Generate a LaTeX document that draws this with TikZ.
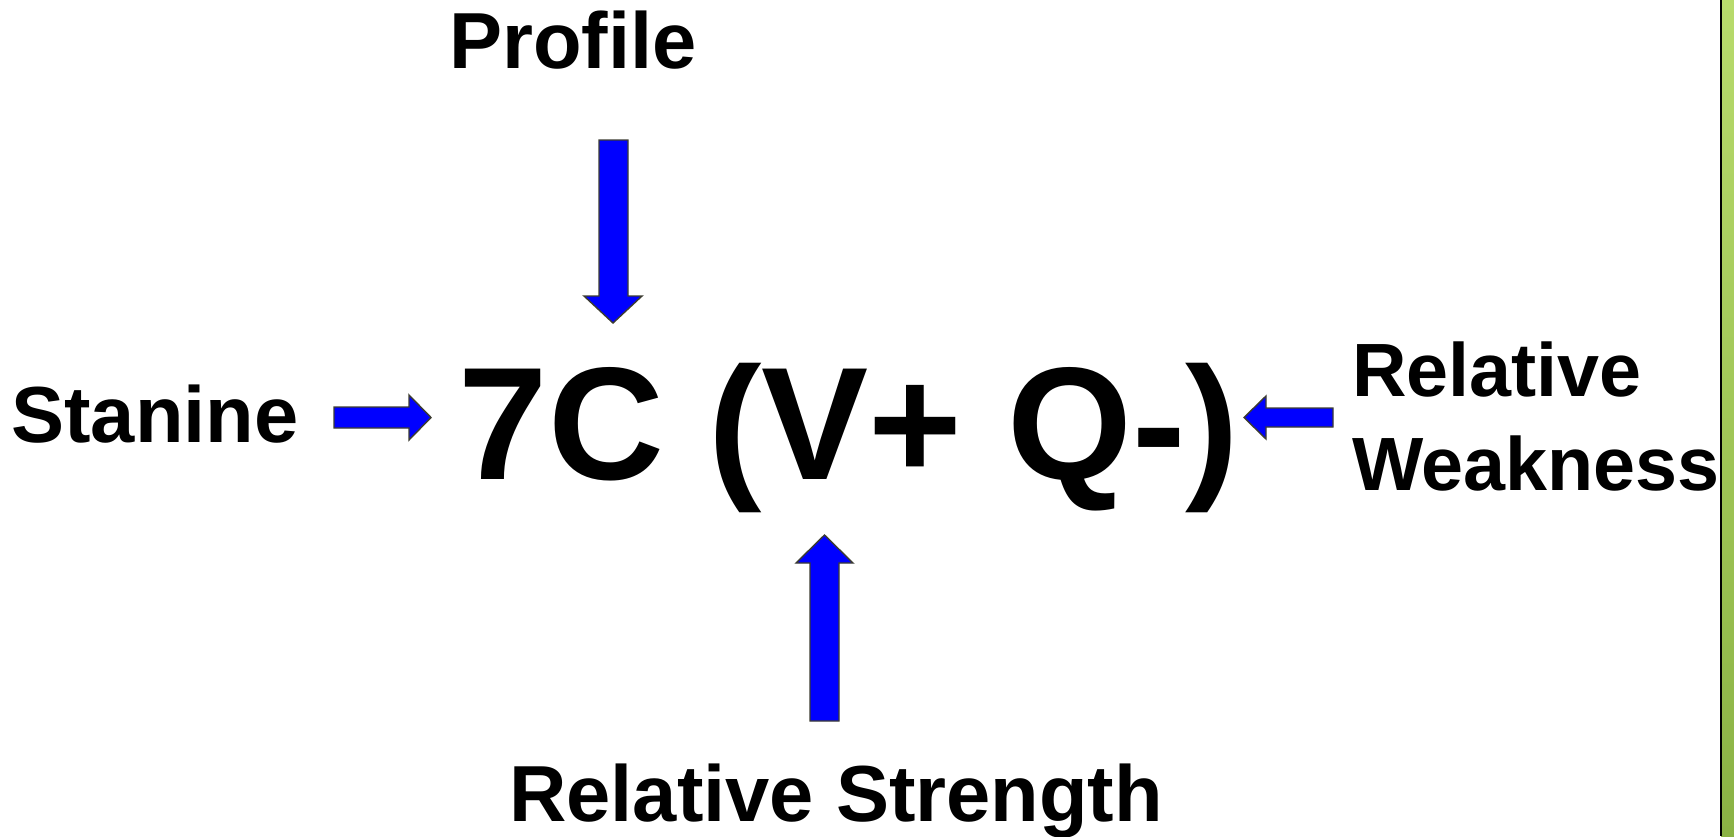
\documentclass[tikz,border=0pt]{standalone}
\usepackage{fontspec}
\setmainfont{Liberation Sans}
\definecolor{arrowblue}{RGB}{0,0,255}
\definecolor{arrowedge}{RGB}{60,60,50}
\definecolor{greentop}{RGB}{184,219,108}
\definecolor{greenbot}{RGB}{138,178,68}
\begin{document}
\begin{tikzpicture}[x=1pt,y=-1pt,
  lbl/.style={inner sep=0pt,outer sep=0pt,font=\bfseries\fontsize{79.5}{94}\selectfont},
  rlbl/.style={inner sep=0pt,outer sep=0pt,font=\bfseries\fontsize{75.5}{94}\selectfont},
  big/.style={inner sep=0pt,outer sep=0pt,font=\bfseries\fontsize{160.5}{190}\selectfont},
  blockarrow/.style={fill=arrowblue,draw=arrowedge,line width=1.4pt,line join=miter}]
\useasboundingbox (0,0) rectangle (1734,836);
\fill[white] (0,0) rectangle (1734,836);
% green strip at the right edge
\shade[top color=greentop,bottom color=greenbot] (1721,0) rectangle (1734,836);
\draw[black,line width=2pt] (1721,0) -- (1721,836);

% texts
\node[lbl,anchor=base] (profile) at (573,68) {Profile};
\node[lbl,anchor=base] (stanine) at (155,442) {Stanine};
\node[big,anchor=base] (main) at (849,479) {7C (V+ Q-)};
\node[rlbl,anchor=base west] (rw1) at (1352,396) {Relative};
\node[rlbl,anchor=base west] (rw2) at (1352,490) {Weakness};
\node[lbl,anchor=base] (strength) at (836,821) {Relative Strength};

% block arrows
% Stanine -> (right-pointing)
\draw[blockarrow] (334,407) -- (409,407) -- (409,395) -- (431,417.5) -- (409,440) -- (409,428) -- (334,428) -- cycle;
% Profile -> (down-pointing)
\draw[blockarrow] (599,140) -- (628,140) -- (628,296) -- (642,296) -- (613,323) -- (584,296) -- (599,296) -- cycle;
% Relative Weakness -> (left-pointing)
\draw[blockarrow] (1333,408) -- (1266,408) -- (1266,396) -- (1244,417.5) -- (1266,439) -- (1266,427) -- (1333,427) -- cycle;
% Relative Strength -> (up-pointing)
\draw[blockarrow] (810,721) -- (839,721) -- (839,563) -- (853,563) -- (824.5,535) -- (796,563) -- (810,563) -- cycle;
\end{tikzpicture}
\end{document}
